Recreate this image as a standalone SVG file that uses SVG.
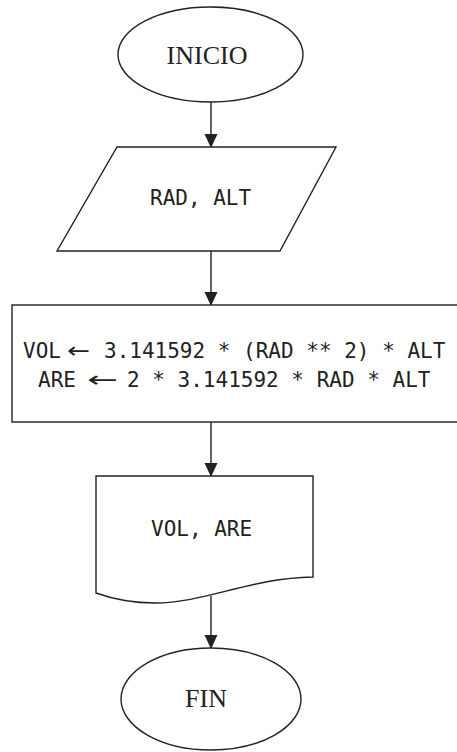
<svg xmlns="http://www.w3.org/2000/svg" width="457" height="752" viewBox="0 0 457 752">
<style>
.s{fill:#fff;stroke:#222;stroke-width:1.4}
.c{fill:none;stroke:#222;stroke-width:1.4}
.t{font-family:"Liberation Serif","Times New Roman",serif;font-size:26px;fill:#222;text-anchor:middle}
.m{font-family:"DejaVu Sans Mono",monospace;font-size:21px;fill:#222}
.a{font-family:"DejaVu Sans",sans-serif;font-size:22px;fill:#222}
</style>
<defs>
<marker id="ah" markerWidth="14" markerHeight="15" refX="14" refY="7" orient="auto" markerUnits="userSpaceOnUse" viewBox="0 0 15 14">
<path d="M0,0 L15,7 L0,14 Z" fill="#222"/>
</marker>
</defs>
<rect width="457" height="752" fill="#fff"/>
<g id="connectors">
<line class="c" x1="211" y1="102" x2="211" y2="147" marker-end="url(#ah)"/>
<line class="c" x1="211" y1="251" x2="211" y2="305" marker-end="url(#ah)"/>
<line class="c" x1="211" y1="422" x2="211" y2="476" marker-end="url(#ah)"/>
<line class="c" x1="211" y1="596" x2="211" y2="648" marker-end="url(#ah)"/>
</g>
<g id="inicio">
<ellipse class="s" cx="210.5" cy="54.5" rx="92.5" ry="47.5"/>
<text class="t" x="207" y="64">INICIO</text>
</g>
<g id="entrada">
<polygon class="s" points="117,147 336,147 280,251 57,251"/>
<text class="m" x="150" y="205">RAD, ALT</text>
</g>
<g id="proceso">
<rect class="s" x="12" y="305" width="460" height="117"/>
<text class="m" y="358"><tspan x="23">VOL</tspan><tspan x="104">3.141592 * (RAD ** 2) * ALT</tspan></text>
<text class="a" x="67" y="358" textLength="23" lengthAdjust="spacingAndGlyphs">←</text>
<text class="m" y="387"><tspan x="38">ARE</tspan><tspan x="127">2 * 3.141592 * RAD * ALT</tspan></text>
<text class="a" x="87" y="387" textLength="31" lengthAdjust="spacingAndGlyphs">←</text>
</g>
<g id="salida">
<path class="s" d="M96,476 H313 V577 C250,578 205,603 155,603 C128,603 110,598 96,593 Z"/>
<text class="m" x="151" y="536">VOL, ARE</text>
</g>
<g id="fin">
<ellipse class="s" cx="211" cy="699" rx="90" ry="51"/>
<text class="t" x="206" y="707">FIN</text>
</g>
</svg>
